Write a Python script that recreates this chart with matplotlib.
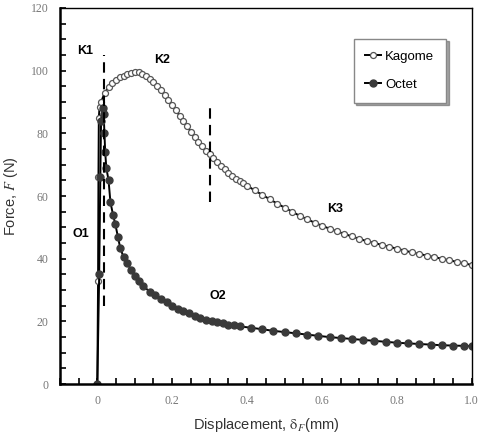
import matplotlib
matplotlib.use("Agg")
import matplotlib.pyplot as plt
from matplotlib.ticker import MultipleLocator

plt.rcParams["mathtext.fontset"] = "stix"

# Kagome lattice: displacement (mm) and force (N)
kagome_x = [0.0, 0.002, 0.003, 0.004, 0.006, 0.01, 0.02, 0.03, 0.04, 0.05,
            0.06, 0.07, 0.08, 0.09,
            0.10, 0.11, 0.12, 0.13, 0.14, 0.15, 0.16, 0.17, 0.18, 0.19,
            0.20, 0.21, 0.22, 0.23, 0.24, 0.25, 0.26, 0.27, 0.28, 0.29,
            0.30, 0.31, 0.32, 0.33, 0.34, 0.35, 0.36, 0.37, 0.38, 0.39,
            0.40, 0.42, 0.44, 0.46, 0.48,
            0.50, 0.52, 0.54, 0.56, 0.58, 0.60, 0.62, 0.64, 0.66, 0.68,
            0.70, 0.72, 0.74, 0.76, 0.78, 0.80, 0.82, 0.84, 0.86, 0.88,
            0.90, 0.92, 0.94, 0.96, 0.98, 1.00]
kagome_f = [0.0, 33.0, 66.0, 85.0, 88.5, 90.0, 93.0, 94.7, 96.0, 97.0,
            97.8, 98.4, 98.9, 99.3,
            99.5, 99.4, 99.0, 98.3, 97.4, 96.3, 95.0, 93.7, 92.2, 90.7,
            89.0, 87.3, 85.6, 83.9, 82.2, 80.5, 78.8, 77.3, 75.8, 74.5,
            73.3, 72.1, 70.9, 69.7, 68.6, 67.4, 66.3, 65.5, 64.8, 64.0,
            63.3, 61.8, 60.4, 59.0, 57.6,
            56.3, 55.0, 53.7, 52.6, 51.5, 50.5, 49.6, 48.7, 47.9, 47.1,
            46.3, 45.6, 45.0, 44.4, 43.8, 43.2, 42.6, 42.0, 41.5, 41.0,
            40.5, 40.0, 39.5, 39.0, 38.5, 38.0]

# Octet lattice
octet_x = [0.0, 0.005, 0.008, 0.01, 0.014, 0.017, 0.019, 0.021, 0.024, 0.03,
           0.035, 0.042, 0.048, 0.055, 0.061, 0.07, 0.08, 0.09, 0.10, 0.11,
           0.123, 0.14, 0.155, 0.17, 0.185, 0.20, 0.215, 0.23, 0.245, 0.26,
           0.275, 0.29, 0.305, 0.32, 0.335, 0.35, 0.365, 0.38, 0.41, 0.44,
           0.47, 0.50, 0.53, 0.56, 0.59, 0.62, 0.65, 0.68, 0.71, 0.74,
           0.77, 0.80, 0.83, 0.86, 0.89, 0.92, 0.95, 0.98, 1.00]
octet_f = [0.0, 35.0, 66.0, 84.0, 88.0, 86.0, 80.0, 74.0, 69.0, 65.0,
           58.0, 54.0, 51.0, 47.0, 43.5, 40.5, 38.5, 36.5, 34.5, 32.8,
           31.2, 29.5, 28.3, 27.2, 26.2, 25.0, 24.0, 23.2, 22.6, 21.8,
           21.1, 20.6, 20.2, 19.8, 19.4, 19.0, 18.7, 18.4, 18.0, 17.5,
           17.0, 16.6, 16.2, 15.8, 15.4, 15.0, 14.7, 14.4, 14.1, 13.8,
           13.5, 13.2, 13.0, 12.8, 12.6, 12.4, 12.3, 12.2, 12.1]

# stage boundaries (dashed lines): x, ymin, ymax
stage_x = [0.017, 0.30]
stage_lo = [25, 58]
stage_hi = [105, 88]

stage_labels = ["K1", "K2", "K3", "O1", "O2"]
label_x = [-0.032, 0.172, 0.635, -0.045, 0.323]
label_y = [106.4, 103.3, 55.8, 47.8, 28.2]

fig = plt.figure(figsize=(4.79, 4.38), dpi=100)
ax = fig.add_axes([0.125, 0.123, 0.86, 0.859])

ax.plot(kagome_x, kagome_f, color="black", lw=1.4, marker="o", ms=4.3,
        mfc="white", mec="#555555", mew=0.9, label="Kagome")
ax.plot(octet_x, octet_f, color="black", lw=1.4, marker="o", ms=5,
        mfc="#3a3a3a", mec="#3a3a3a", label="Octet")

for sx, lo, hi in zip(stage_x, stage_lo, stage_hi):
    ax.plot([sx, sx], [lo, hi], color="black", lw=1.5, ls=(0, (5, 3)))

for t, lx, ly in zip(stage_labels, label_x, label_y):
    ax.text(lx, ly, t, fontsize=9, fontweight="bold", ha="center", va="center",
            family="Liberation Sans")

ax.set_xlim(-0.1, 1.0)
ax.set_ylim(0, 120)
ax.xaxis.set_minor_locator(MultipleLocator(0.05))
ax.yaxis.set_major_locator(MultipleLocator(20))
ax.yaxis.set_minor_locator(MultipleLocator(5))
ax.set_xticks([0, 0.2, 0.4, 0.6, 0.8, 1.0])
ax.set_xticklabels(["0", "0.2", "0.4", "0.6", "0.8", "1.0"])
ax.tick_params(which="both", direction="in", top=False, right=False,
               length=4, width=1.2, labelsize=8.5, labelcolor="#777777", pad=8)
for lab in ax.get_xticklabels() + ax.get_yticklabels():
    lab.set_family("Liberation Serif")
for s in ["left", "bottom"]:
    ax.spines[s].set_linewidth(1.8)
for s in ["top", "right"]:
    ax.spines[s].set_linewidth(1.0)

ax.set_xlabel(r"Displacement, $\mathrm{\delta}_{F}$(mm)", fontsize=10.5,
              family="Liberation Sans", color="#333333", labelpad=6)
ax.set_ylabel(r"Force, $F$ (N)", fontsize=10.5, family="Liberation Sans",
              color="#333333", labelpad=8)

leg = ax.legend(loc="upper right", bbox_to_anchor=(0.954, 0.936), fancybox=False,
                shadow=True, edgecolor="#888888", handlelength=1.2,
                labelspacing=1.2, borderpad=0.9, handletextpad=0.3,
                prop={"family": "Liberation Sans", "size": 9.5})

fig.savefig("out.png", dpi=100)
